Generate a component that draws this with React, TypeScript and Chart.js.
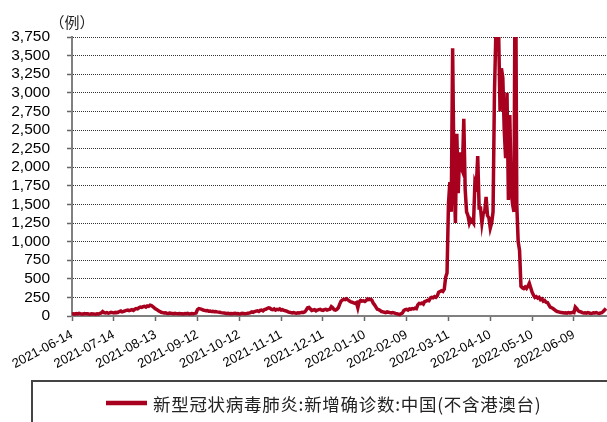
import React, { useEffect, useRef } from 'react';
import { Chart, registerables } from 'chart.js';

Chart.register(...registerables);

// ---- data -------------------------------------------------------------
const START_DATE = '2021-06-14';
const X_TICK_STEP = 30;
const Y_MAX = 3750;
const Y_STEP = 250;
const UNIT_LABEL = '（例）';
const SERIES_NAME = '新型冠状病毒肺炎:新增确诊数:中国(不含港澳台)';

// daily values, month by month
const jun2021 = [28, 30, 25, 32, 27, 35, 30, 26, 28, 33, 29, 31, 27, 25, 30, 28, 26];
const jul2021 = [25, 30, 27, 35, 40, 60, 45, 40, 45, 38, 42, 50, 45, 40, 48, 44, 50, 60, 67, 55, 62, 70, 75, 80, 72, 78, 85, 75, 90, 100, 95];
const aug2021 = [110, 120, 115, 125, 130, 120, 135, 130, 145, 140, 125, 110, 95, 85, 70, 60, 50, 45, 40, 42, 38, 35, 40, 36, 33, 30, 35, 32, 30, 34, 31];
const sep2021 = [30, 28, 32, 30, 35, 28, 30, 33, 31, 35, 40, 85, 100, 95, 90, 80, 75, 70, 72, 65, 68, 60, 62, 58, 60, 55, 52, 50, 45, 42];
const oct2021 = [40, 38, 35, 36, 32, 34, 30, 33, 35, 30, 32, 28, 30, 35, 33, 30, 32, 36, 40, 45, 55, 50, 60, 65, 70, 60, 75, 80, 70, 85, 90];
const nov2021 = [100, 110, 105, 90, 85, 95, 80, 90, 85, 95, 80, 85, 75, 70, 65, 55, 50, 45, 40, 45, 40, 38, 42, 40, 45, 50, 48, 55, 80, 110];
const dec2021 = [115, 95, 75, 80, 85, 70, 80, 85, 90, 80, 75, 85, 90, 80, 85, 90, 125, 110, 85, 80, 90, 110, 160, 200, 215, 225, 220, 230, 215, 200, 190];
const jan2022 = [185, 175, 170, 180, 110, 190, 210, 200, 205, 195, 210, 230, 220, 225, 215, 175, 150, 120, 90, 85, 75, 60, 55, 50, 45, 55, 50, 45, 40, 45, 42];
const feb2022 = [35, 30, 25, 20, 30, 40, 75, 85, 90, 80, 95, 90, 100, 95, 105, 100, 150, 170, 165, 175, 160, 195, 200, 210, 205, 240, 250, 245];
const mar2022 = [260, 250, 270, 320, 330, 340, 330, 360, 520, 580, 1500, 1800, 1400, 3600, 1860, 1250, 2450, 1650, 2200, 2000, 1950, 2650, 1700, 1400, 1350, 1250, 1300, 1280, 1250, 1800, 1750];
const apr2022 = [2150, 1450, 1450, 1250, 1380, 1400, 1600, 1350, 1320, 1180, 1250, 1400, 3000, 3800, 3900, 3800, 2750, 3330, 3200, 2500, 2120, 3000, 1560, 2700, 1700, 1500, 1400, 5600, 1500, 1000];
const may2022 = [880, 400, 380, 370, 390, 370, 400, 440, 380, 320, 280, 250, 260, 240, 250, 220, 230, 200, 210, 185, 180, 150, 120, 110, 100, 85, 70, 60, 55, 50, 48];
const jun2022 = [45, 40, 42, 38, 45, 40, 43, 50, 45, 120, 100, 70, 60, 55, 45, 40, 42, 38, 45, 40, 35, 38, 42, 40, 45, 38, 35, 40, 45, 60];
const jul2022 = [80, 100];

const dailyCases = [
  ...jun2021, ...jul2021, ...aug2021, ...sep2021, ...oct2021, ...nov2021, ...dec2021,
  ...jan2022, ...feb2022, ...mar2022, ...apr2022, ...may2022, ...jun2022, ...jul2022,
];

function dateLabel(index: number): string {
  const [y, m, d] = START_DATE.split('-').map(Number);
  const t = Date.UTC(y, m - 1, d) + index * 86400000;
  return new Date(t).toISOString().slice(0, 10);
}

const SANS = '"Liberation Sans", Arial, sans-serif';
const CJK = '"Noto Sans CJK SC", sans-serif';
const LINE_COLOR = '#A8001F';

const decorPlugin = {
  id: 'decor',
  afterDraw(chart: any) {
    const { ctx, chartArea } = chart;
    ctx.save();
    // unit label
    ctx.font = `15px ${CJK}`;
    ctx.fillStyle = '#222';
    ctx.textAlign = 'center';
    ctx.textBaseline = 'middle';
    ctx.fillText(UNIT_LABEL, chartArea.left, chartArea.top - 15);

    // legend frame
    const fy = 381;
    ctx.strokeStyle = '#444';
    ctx.lineWidth = 2;
    ctx.beginPath();
    ctx.moveTo(32, chart.height + 2);
    ctx.lineTo(32, fy);
    ctx.lineTo(chart.width + 2, fy);
    ctx.stroke();

    // legend item
    const ds = chart.data.datasets[0];
    const ly = 403;
    ctx.strokeStyle = ds.borderColor;
    ctx.lineWidth = 4.5;
    ctx.beginPath();
    ctx.moveTo(106, ly);
    ctx.lineTo(147, ly);
    ctx.stroke();
    ctx.font = `17.5px ${CJK}`;
    try { (ctx as any).letterSpacing = '0.7px'; } catch (e) { /* ignore */ }
    ctx.fillStyle = '#222';
    ctx.textAlign = 'left';
    ctx.fillText(ds.label, 153, ly + 1);
    ctx.restore();
  },
};

export default function App() {
  const canvasRef = useRef<HTMLCanvasElement | null>(null);

  useEffect(() => {
    if (!canvasRef.current) return;
    const chart = new Chart(canvasRef.current, {
      type: 'line',
      data: {
        datasets: [
          {
            label: SERIES_NAME,
            data: dailyCases.map((v, i) => ({ x: i, y: v })),
            borderColor: LINE_COLOR,
            backgroundColor: LINE_COLOR,
            borderWidth: 3.5,
            pointRadius: 0,
            tension: 0,
            clip: { left: 3, right: 3, top: 0, bottom: 3 } as any,
          },
        ],
      },
      options: {
        animation: false,
        responsive: true,
        maintainAspectRatio: false,
        events: [],
        layout: { padding: { left: 0, right: 1, top: 37, bottom: 36 } },
        plugins: {
          tooltip: { enabled: false },
          legend: { display: false },
        },
        scales: {
          x: {
            type: 'linear',
            min: 0,
            max: dailyCases.length - 1,
            ticks: {
              stepSize: X_TICK_STEP,
              maxTicksLimit: 20,
              includeBounds: false,
              autoSkip: false,
              minRotation: 28,
              maxRotation: 28,
              padding: 6,
              color: '#000',
              font: { family: SANS, size: 13 },
              callback: (v: any) => dateLabel(Number(v)),
            },
            grid: { drawOnChartArea: false, drawTicks: true, tickLength: 5, tickColor: '#666', tickWidth: 1.5 },
            border: { display: true, color: '#808080', width: 2 },
            afterFit: (s: any) => { s.height = 70; },
          },
          y: {
            min: 0,
            max: Y_MAX,
            ticks: {
              stepSize: Y_STEP,
              maxTicksLimit: 20,
              autoSkip: false,
              padding: 17,
              color: '#000',
              font: { family: SANS, size: 15.5 },
              callback: (v: any) => Number(v).toLocaleString('en-US'),
            },
            grid: { color: '#333', lineWidth: 1, tickLength: 5, tickColor: '#666', tickWidth: 1.5 },
            border: { display: true, color: '#808080', width: 2, dash: [1, 1] },
            afterFit: (s: any) => { s.width = 72; },
          },
        },
      },
      plugins: [decorPlugin],
    });
    return () => chart.destroy();
  }, []);

  return (
    <div style={{ position: 'fixed', left: 0, top: 0, width: 607, height: 422, background: '#fff' }}>
      <canvas ref={canvasRef} />
    </div>
  );
}
